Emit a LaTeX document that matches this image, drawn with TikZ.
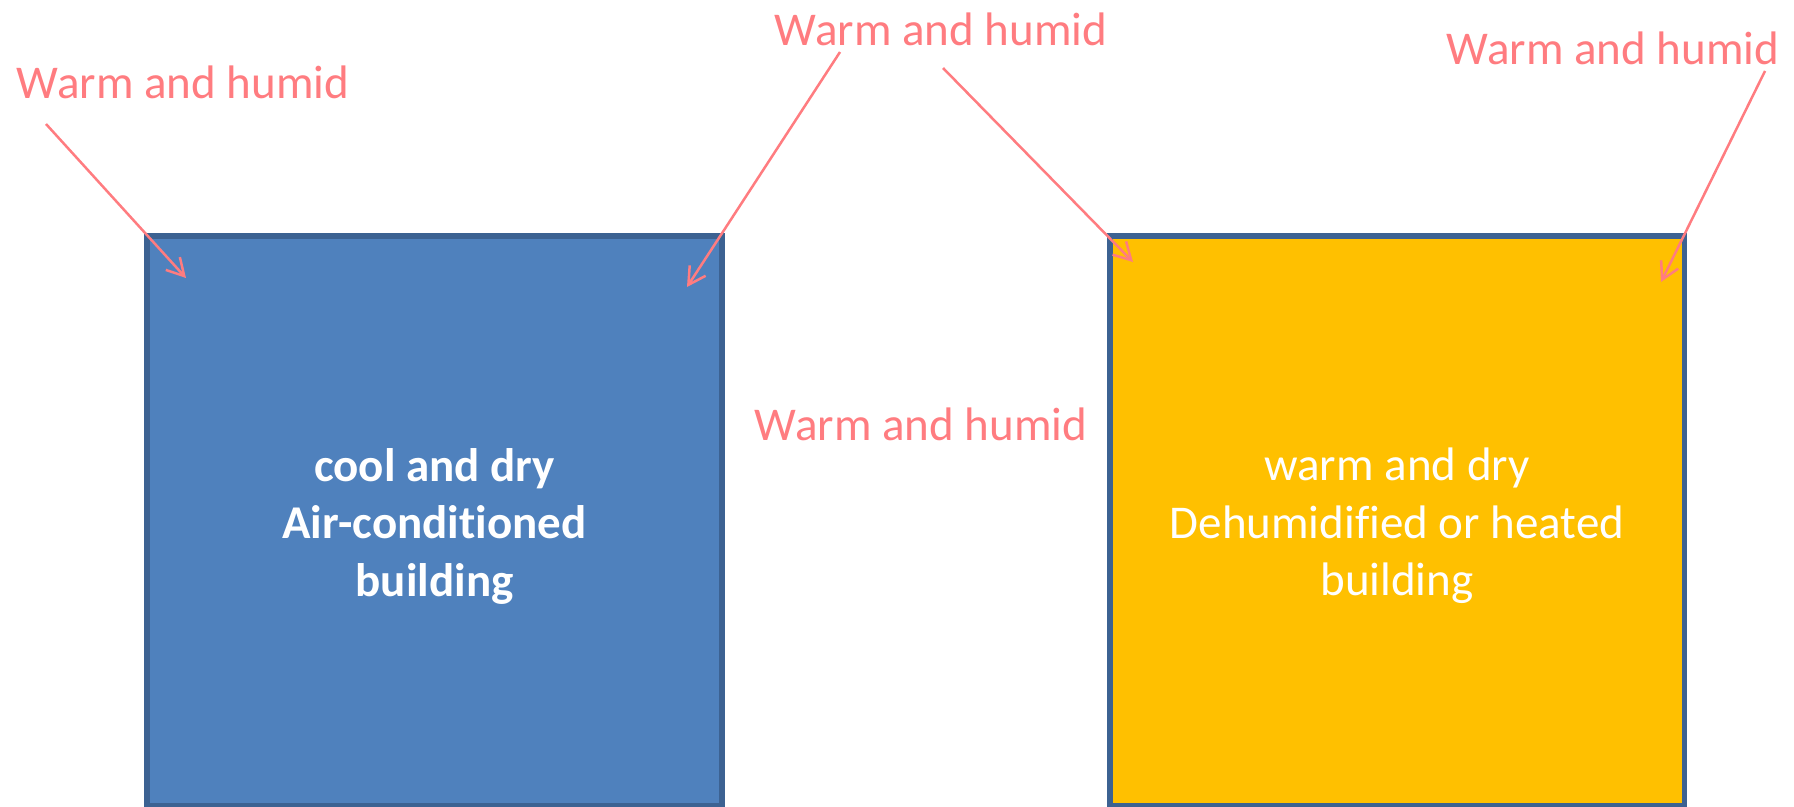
\documentclass[tikz,border=0pt]{standalone}
\usepackage{fontspec}
\setmainfont{Carlito}[Ligatures={NoCommon,NoRare,NoContextual}]
\usetikzlibrary{arrows.meta}
\definecolor{coral}{HTML}{FF7C80}
\definecolor{bluefill}{HTML}{4F81BD}
\definecolor{edgeblue}{HTML}{3C6292}
\definecolor{amber}{HTML}{FFC000}
\begin{document}
\begin{tikzpicture}[x=1pt,y=-1pt,
  building/.style={draw=edgeblue,line width=5.5pt,inner sep=0,outer sep=0},
  lbl/.style={text=coral,font=\fontsize{47}{57}\selectfont,inner sep=0,anchor=base},
  inside/.style={text=white,align=center,font=\fontsize{47}{57.5}\selectfont,inner sep=0},
  flow/.style={draw=coral,line width=2.5pt,-{Straight Barb[length=17pt,width=19pt]}}]
\useasboundingbox (0,0) rectangle (1794,806);
\node[building,fill=bluefill,minimum width=575pt,minimum height=570pt] (ac) at (434.5,521) {};
\node[building,fill=amber,minimum width=574.5pt,minimum height=570pt] (dh) at (1397.25,521) {};
\node[inside,font=\fontsize{47}{57.5}\selectfont\bfseries] (actext) at (434.5,526) {cool and dry\\Air-conditioned\\building};
\node[inside] (dhtext) at (1397,526) {warm and dry\\Dehumidified or heated\\building};
\node[lbl] (w1) at (183,98) {Warm and humid};
\node[lbl] (w2) at (941,45) {Warm and humid};
\node[lbl] (w3) at (1613,64) {Warm and humid};
\node[lbl] (w4) at (921,440) {Warm and humid};
\coordinate (s1) at (46,124);  \coordinate (t1) at (186,278);
\coordinate (s2) at (840,52);  \coordinate (t2) at (687,287);
\coordinate (s3) at (943,68);  \coordinate (t3) at (1133,262);
\coordinate (s4) at (1765,71); \coordinate (t4) at (1661,282);
\draw[flow] (s1) -- (t1);
\draw[flow] (s2) -- (t2);
\draw[flow] (s3) -- (t3);
\draw[flow] (s4) -- (t4);
\end{tikzpicture}
\end{document}
